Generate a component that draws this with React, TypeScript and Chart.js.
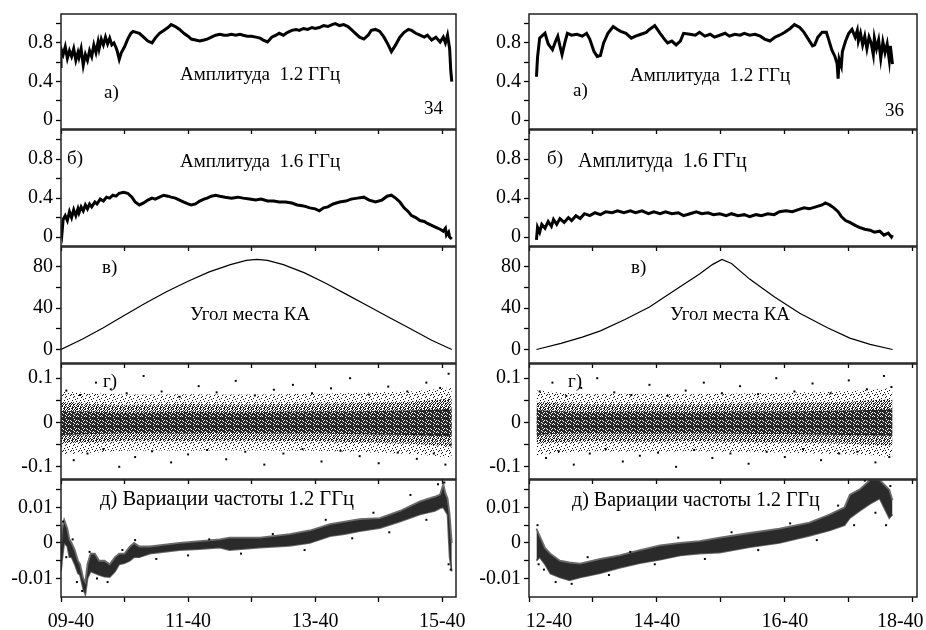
import React, { useEffect, useRef } from 'react';
import { Chart, registerables } from 'chart.js';
Chart.register(...registerables);

const FONT = "'Liberation Serif', 'Times New Roman', serif";

// ---------- x axes: minutes after the first hour tick ----------
const LEFT_X_MAX = 373;
const RIGHT_X_MAX = 364;
const X_TICKS = [0, 60, 120, 180, 240, 300, 360];
const LEFT_X_LABELS = ['    09-40', '', '11-40', '', '13-40', '', '15-40'];
const RIGHT_X_LABELS = ['        12-40', '', '14-40', '', '16-40', '', '18-40     '];

// ---------- y axes ----------
const AMP_TICKS = [0, 0.2, 0.4, 0.6, 0.8, 1.0];
const AMP_LABELS = ['0', '', '0.4', '', '0.8', ''];
const ELEV_TICKS = [0, 20, 40, 60, 80];
const ELEV_LABELS = ['0', '', '40', '', '80'];
const PH_TICKS = [-0.1, -0.05, 0, 0.05, 0.1];
const PH_LABELS = ['-0.1', '', '0', '', '0.1'];
const FR_TICKS = [-0.01, -0.005, 0, 0.005, 0.01, 0.015];
const FR_LABELS = ['-0.01', '', '0', '', '0.01', ''];

// ---------- left column (pass 34) ----------
const L1_T = [0,0,2,4,6,8,10,12,14,16, 17,19,21,23,25,27,29,31,33,35, 36,38,40,42,44,46,48,50,52,53,
  55,57,60,63,66,68,71,74,78,82, 86,89,93,97,101,104,108,112,116,120, 123,127,131,135,138,142,146,150,154,157,
  161,165,169,172,176,180,184,188,191,195, 199,203,206,210,214,218,222,225,229,233, 237,240,244,248,252,256,259,263,267,271,
  274,278,282,286,290,293,297,301,305,309, 312,316,320,324,328,331,335,339,343,346, 350,354,358,361,363,365,367,368,369];
const L1_V = [0.54,0.74,0.68,0.76,0.64,0.72,0.66,0.74,0.62,0.70, 0.65,0.74,0.57,0.68,0.62,0.72,0.66,0.78,0.70,0.81,
  0.74,0.84,0.78,0.86,0.79,0.85,0.78,0.80,0.75,0.72, 0.63,0.70,0.76,0.84,0.90,0.92,0.91,0.90,0.86,0.82,
  0.80,0.85,0.90,0.93,0.96,0.99,0.97,0.94,0.90,0.87, 0.84,0.83,0.82,0.83,0.84,0.86,0.88,0.89,0.88,0.88,
  0.89,0.88,0.89,0.88,0.87,0.87,0.86,0.85,0.83,0.81, 0.86,0.88,0.90,0.88,0.91,0.93,0.94,0.93,0.95,0.94,
  0.96,0.95,0.96,0.98,0.97,0.99,1.00,0.98,0.99,0.97, 0.94,0.90,0.86,0.84,0.88,0.93,0.94,0.92,0.86,0.78,
  0.71,0.78,0.86,0.91,0.94,0.93,0.90,0.88,0.86,0.88, 0.83,0.86,0.81,0.86,0.80,0.88,0.74,0.52,0.40];

const L2_T = [0,0,1,2,4,6,8,10,12,14, 16,17,19,21,23,25,27,29,32,34, 37,40,43,46,49,52,55,59,63,67,
  70,74,78,82,86,89,93,97,101,104, 108,112,116,120,123,127,131,135,138,142, 146,150,155,161,167,172,178,184,189,195,
  201,206,212,218,223,229,235,240,244,248, 252,257,263,269,274,280,286,291,297,303, 308,312,316,320,324,328,331,335,339,343,
  346,350,354,358,361,363,364,366,367,369];
const L2_V = [0.00,0.12,0.05,0.18,0.22,0.17,0.26,0.20,0.28,0.22, 0.29,0.25,0.31,0.27,0.33,0.29,0.34,0.31,0.36,0.34,
  0.39,0.37,0.41,0.40,0.43,0.42,0.45,0.46,0.45,0.41, 0.36,0.33,0.35,0.38,0.40,0.39,0.41,0.43,0.42,0.41,
  0.40,0.38,0.36,0.34,0.33,0.34,0.37,0.39,0.40,0.42, 0.43,0.42,0.41,0.40,0.41,0.40,0.39,0.38,0.39,0.37,
  0.37,0.36,0.36,0.35,0.33,0.32,0.30,0.29,0.27,0.30, 0.31,0.34,0.36,0.37,0.39,0.40,0.41,0.38,0.36,0.38,
  0.42,0.43,0.40,0.36,0.30,0.26,0.22,0.20,0.17,0.16, 0.14,0.12,0.10,0.08,0.06,0.09,0.02,0.05,0.00,-0.02];

const L3_T = [0,20,40,60,80,100,120,140,160,175,185,195,210,230,250,270,290,310,330,350,369];
const L3_V = [0,10,21,33,45,56,66,75,82,86,87,86,82,74,64,53,42,31,20,9,0];

const L4_T = [0,30,60,90,120,150,180,210,240,270,300,330,350,369];
const L4_CORE_HI = [0.026,0.024,0.022,0.023,0.024,0.023,0.023,0.024,0.025,0.025,0.026,0.027,0.029,0.031];
const L4_CORE_LO = [-0.028,-0.026,-0.024,-0.024,-0.025,-0.023,-0.024,-0.025,-0.024,-0.026,-0.027,-0.028,-0.030,-0.032];
const L4_MID_HI = [0.045,0.042,0.040,0.041,0.042,0.041,0.041,0.042,0.043,0.043,0.045,0.047,0.050,0.054];
const L4_MID_LO = [-0.047,-0.044,-0.041,-0.041,-0.042,-0.041,-0.041,-0.042,-0.042,-0.044,-0.046,-0.048,-0.051,-0.055];
const L4_OUT_HI = [0.070,0.066,0.063,0.063,0.064,0.063,0.063,0.064,0.065,0.066,0.068,0.070,0.074,0.080];
const L4_OUT_LO = [-0.072,-0.068,-0.064,-0.063,-0.064,-0.063,-0.063,-0.064,-0.064,-0.066,-0.068,-0.071,-0.075,-0.080];
const L4_DOT_T = [5,12,18,25,33,40,47,55,62,70, 78,86,95,104,112,120,130,138,147,156, 165,174,183,192,201,210,219,228,237,246,
  255,264,273,282,291,300,309,318,327,336, 345,352,358,363,366,368];
const L4_DOT_V = [0.072,-0.085,0.062,-0.07,0.09,-0.06,0.075,-0.1,0.066,-0.078, 0.105,-0.065,0.07,-0.09,0.058,-0.072,0.082,-0.062,0.068,-0.083,
  0.094,-0.066,0.061,-0.095,0.074,-0.07,0.085,-0.06,0.066,-0.088, 0.077,-0.064,0.1,-0.076,0.063,-0.092,0.081,-0.068,0.07,-0.082,
  0.09,-0.07,0.078,-0.095,0.11,-0.05];

const L5_T = [0,1,3,6,8,10,13,16,18,21, 23,25,28,32,36,41,46,51,55,60, 65,69,74,84,98,112,131,150,159,188,
  216,235,254,268,282,301,320,339,353,358, 361,363,365,367,369];
const L5_HI = [-0.001,0.004,0.0065,0.004,0.001,0.000,-0.002,-0.005,-0.006,-0.010, -0.011,-0.006,-0.003,-0.003,-0.005,-0.005,-0.006,-0.004,-0.003,-0.003,
  -0.001,0.000,-0.001,-0.001,-0.0005,0.000,0.0005,0.001,0.0015,0.0015, 0.0025,0.0035,0.0053,0.006,0.0067,0.007,0.009,0.0117,0.013,0.0136,
  0.0165,0.014,0.0125,0.008,0.000];
const L5_LO = [-0.008,-0.005,0.000,-0.001,-0.004,-0.004,-0.006,-0.0085,-0.009,-0.013, -0.0145,-0.010,-0.008,-0.0085,-0.009,-0.0095,-0.0096,-0.008,-0.006,-0.0057,
  -0.005,-0.004,-0.004,-0.003,-0.0025,-0.002,-0.0017,-0.0013,-0.002,-0.0013, -0.0008,0.000,0.0019,0.0025,0.0033,0.0042,0.006,0.008,0.009,0.0098,
  0.010,0.009,0.008,-0.004,-0.008];
const L5_DOT_T = [2,5,11,15,20,27,34,44,58,70,90,120,140,170,200,230,250,275,295,310,330,345,356,362,366,368];
const L5_DOT_V = [0.006,-0.004,0.001,-0.011,-0.0135,-0.0025,-0.010,-0.011,-0.002,0.0008,-0.0045,-0.0035,0.001,-0.003,0.0025,-0.002,0.0065,0.0013,0.0085,0.003,0.0135,0.0065,0.0165,0.017,-0.006,-0.0075];

// ---------- right column (pass 36) ----------
const R1_T = [7,8,10,13,15,18,20,22,25,27, 29,31,34,36,40,45,50,54,57,61, 64,67,70,74,79,83,86,91,96,100,
  105,110,113,118,123,127,130,134,138,142, 145,151,156,160,165,170,174,179,184,188, 193,198,202,207,212,217,221,226,231,235,
  240,245,249,254,258,262,266,268,271,275, 279,281,284,287,289,290,291,293,294,297, 300,303,306,308,309,311,313,315,317,319,
  321,323,324,326,328,330,332,334,336,338, 339,341];
const R1_V = [0.45,0.65,0.85,0.88,0.90,0.79,0.76,0.73,0.82,0.87, 0.77,0.68,0.82,0.90,0.88,0.89,0.87,0.90,0.84,0.71,
  0.66,0.67,0.80,0.90,0.97,0.94,0.92,0.90,0.85,0.87, 0.89,0.91,0.94,0.98,0.90,0.84,0.80,0.82,0.78,0.82,
  0.90,0.89,0.88,0.91,0.87,0.89,0.86,0.88,0.90,0.87, 0.89,0.88,0.90,0.88,0.89,0.87,0.84,0.82,0.86,0.88,
  0.91,0.95,0.99,0.96,0.91,0.84,0.77,0.78,0.86,0.91, 0.91,0.84,0.73,0.66,0.59,0.43,0.63,0.56,0.71,0.82,
  0.90,0.94,0.86,0.93,0.82,0.90,0.78,0.87,0.74,0.86, 0.80,0.68,0.85,0.74,0.83,0.64,0.81,0.70,0.79,0.62, 0.77,0.58];

const R2_T = [7,8,10,12,15,18,21,23,26,29, 33,37,40,44,48,52,57,62,67,72, 78,83,89,95,100,106,112,117,123,128,
  134,140,145,151,157,162,168,173,179,185, 190,196,202,207,213,218,224,230,235,241, 247,252,258,263,269,275,278,282,286,290,
  293,297,301,306,310,315,320,324,329,333, 337,340,341];
const R2_V = [-0.03,0.10,0.05,0.13,0.09,0.16,0.11,0.18,0.13,0.19, 0.15,0.20,0.17,0.22,0.19,0.24,0.22,0.25,0.23,0.26,
  0.25,0.27,0.25,0.27,0.25,0.27,0.24,0.26,0.24,0.26, 0.24,0.25,0.22,0.24,0.26,0.24,0.25,0.23,0.24,0.22,
  0.24,0.22,0.23,0.21,0.23,0.22,0.24,0.23,0.26,0.27, 0.26,0.28,0.30,0.29,0.31,0.33,0.35,0.33,0.30,0.26,
  0.21,0.17,0.15,0.12,0.10,0.08,0.07,0.05,0.06,0.02, 0.04,0.00,0.02];

const R3_T = [7,30,50,67,90,113,135,160,172,181,190,207,230,254,280,301,320,341];
const R3_V = [0,6,12,18,29,41,56,73,82,87,83,68,51,35,21,11,5,0];

const R4_T = [7,30,60,90,120,150,180,210,240,270,300,320,341];
const R4_CORE_HI = [0.028,0.025,0.023,0.024,0.024,0.023,0.024,0.025,0.025,0.026,0.027,0.028,0.030];
const R4_CORE_LO = [-0.028,-0.025,-0.024,-0.025,-0.025,-0.024,-0.025,-0.026,-0.026,-0.027,-0.028,-0.029,-0.030];
const R4_MID_HI = [0.047,0.043,0.041,0.042,0.042,0.041,0.042,0.043,0.044,0.045,0.047,0.050,0.052];
const R4_MID_LO = [-0.048,-0.044,-0.042,-0.043,-0.043,-0.042,-0.043,-0.044,-0.045,-0.046,-0.048,-0.050,-0.052];
const R4_OUT_HI = [0.072,0.067,0.064,0.065,0.065,0.064,0.065,0.066,0.067,0.069,0.071,0.074,0.078];
const R4_OUT_LO = [-0.074,-0.068,-0.065,-0.066,-0.066,-0.065,-0.066,-0.067,-0.068,-0.070,-0.072,-0.074,-0.078];
const R4_DOT_T = [10,16,22,28,35,42,49,57,64,72, 80,88,96,104,113,121,130,138,147,155, 164,172,181,189,198,206,215,223,232,240,
  249,257,266,274,283,291,300,308,317,325, 333,338,340];
const R4_DOT_V = [0.07,-0.08,0.09,-0.065,0.06,-0.095,0.078,-0.07,0.1,-0.06, 0.068,-0.088,0.062,-0.075,0.085,-0.068,0.06,-0.1,0.072,-0.062,
  0.09,-0.08,0.066,-0.07,0.082,-0.093,0.064,-0.066,0.1,-0.078, 0.07,-0.06,0.088,-0.085,0.066,-0.07,0.095,-0.066,0.075,-0.09,
  0.105,-0.078,0.08];

const R5_T = [7,10,15,20,29,38,48,67,85,104,123,142,160,179,207,235,263,282,296,301,310,320,329,338,341];
const R5_HI = [0.004,0.002,-0.0014,-0.003,-0.005,-0.0055,-0.0058,-0.0045,-0.0035,-0.002,-0.0007,0.0,0.0005,0.0015,0.0028,0.004,0.0057,0.008,0.010,0.0136,0.015,0.0177,0.0177,0.015,0.012];
const R5_LO = [-0.005,-0.004,-0.006,-0.0086,-0.0097,-0.0105,-0.0097,-0.0085,-0.007,-0.0057,-0.0047,-0.0035,-0.003,-0.0027,-0.0012,0.0,0.002,0.0035,0.005,0.007,0.009,0.011,0.0125,0.007,0.008];
const R5_DOT_T = [8,9,14,25,40,55,75,95,118,140,165,190,215,245,270,290,305,315,325,335,339];
const R5_DOT_V = [0.005,-0.006,-0.0075,-0.011,-0.0115,-0.004,-0.009,-0.0025,-0.006,0.0015,-0.0045,0.003,-0.002,0.0055,0.0008,0.0105,0.005,0.0175,0.0085,0.005,0.016];

// ---------- text notes ----------
const NOTES = [
  { text: 'а)', x: 104, y: 92 },
  { text: 'Амплитуда  1.2 ГГц', x: 180, y: 74 },
  { text: '34', x: 424, y: 108 },
  { text: 'б)', x: 67, y: 158 },
  { text: 'Амплитуда  1.6 ГГц', x: 180, y: 161 },
  { text: 'в)', x: 102, y: 267 },
  { text: 'Угол места КА', x: 190, y: 314 },
  { text: 'г)', x: 103, y: 381 },
  { text: 'д) Вариации частоты 1.2 ГГц', x: 100, y: 499, size: 20.5 },
  { text: 'а)', x: 573, y: 90 },
  { text: 'Амплитуда  1.2 ГГц', x: 630, y: 75 },
  { text: '36', x: 885, y: 110 },
  { text: 'б)', x: 547, y: 158 },
  { text: 'Амплитуда  1.6 ГГц', x: 578, y: 161, size: 20 },
  { text: 'в)', x: 631, y: 267 },
  { text: 'Угол места КА', x: 670, y: 314 },
  { text: 'г)', x: 568, y: 381 },
  { text: 'д) Вариации частоты 1.2 ГГц', x: 572, y: 500, size: 20 },
];

// ---------- speckle textures for the scatter clouds (style only) ----------
const CORE_TILE = ['##.###.#', '.###.##.', '#.##.###', '###.#.##', '.##.###.', '##.###.#', '#.###.##', '.##.#.##'];
const MID_TILE = ['#..#.#..', '.#...#.#', '#..#...#', '..#.#.#.', '.#..#..#', '#.#...#.', '..#.#..#', '#...#.#.'];
const OUT_TILE = ['#.......', '....#...', '..#.....', '.......#', '...#....', '#.....#.', '.....#..', '.#......'];

function makePattern(tile: string[], color: string): any {
  const c = document.createElement('canvas');
  c.width = tile[0].length;
  c.height = tile.length;
  const g = c.getContext('2d') as CanvasRenderingContext2D;
  g.fillStyle = color;
  tile.forEach((row, y) => {
    for (let x = 0; x < row.length; x++) if (row[x] === '#') g.fillRect(x, y, 1, 1);
  });
  return g.createPattern(c, 'repeat');
}

// ---------- layout ----------
const Y_AXIS_W = 60;
const TOP_PAD = 14;
const RIGHT_PAD = 50;
const ROW_TOP = [13, 129, 246, 363, 479];
const ROW_H = [116, 117, 117, 116, 118];
const COL_LEFT = [61, 529];
const COL_W = [395, 388];

const xy = (t: number[], v: number[]) => t.map((x, i) => ({ x, y: v[i] }));
const trace = (t: number[], v: number[], w: number) => ({
  data: xy(t, v), borderColor: '#000', borderWidth: w, pointRadius: 0, tension: 0, fill: false, order: 1,
});
const band = (t: number[], hi: number[], lo: number[], fillStyle: any, order: number, edge = 0, edgeColor = '#000') => [
  { data: xy(t, hi), borderWidth: edge, borderColor: edgeColor, pointRadius: 0, fill: '+1', backgroundColor: fillStyle, order },
  { data: xy(t, lo), borderWidth: edge, borderColor: edgeColor, pointRadius: 0, fill: false, order },
];
const dots = (t: number[], v: number[]) => ({
  data: xy(t, v), showLine: false, pointRadius: 1.4, pointStyle: 'rect', pointBorderWidth: 0,
  pointBackgroundColor: '#000', borderWidth: 0, order: 0,
});

type Axis = { min: number; max: number; ticks: number[]; labels: string[] };
const AMP_AXIS: Axis = { min: -0.092, max: 1.1, ticks: AMP_TICKS, labels: AMP_LABELS };
const ELEV_AXIS: Axis = { min: -13, max: 99, ticks: ELEV_TICKS, labels: ELEV_LABELS };
const PH_AXIS: Axis = { min: -0.1275, max: 0.132, ticks: PH_TICKS, labels: PH_LABELS };
const FR_AXIS: Axis = { min: -0.0152, max: 0.0177, ticks: FR_TICKS, labels: FR_LABELS };

type PanelCfg = { col: number; row: number; y: Axis; build: () => any[] };

const cloud = (t: number[], oh: number[], ol: number[], mh: number[], ml: number[], ch: number[], cl: number[], dt: number[], dv: number[]) => [
  ...band(t, oh, ol, makePattern(OUT_TILE, '#111'), 4),
  ...band(t, mh, ml, makePattern(MID_TILE, '#222'), 3),
  ...band(t, ch, cl, makePattern(CORE_TILE, '#2a2a2a'), 2),
  dots(dt, dv),
];

const AMP_W = 3;
const PANELS: PanelCfg[] = [
  { col: 0, row: 0, y: AMP_AXIS, build: () => [trace(L1_T, L1_V, AMP_W)] },
  { col: 0, row: 1, y: AMP_AXIS, build: () => [trace(L2_T, L2_V, AMP_W)] },
  { col: 0, row: 2, y: ELEV_AXIS, build: () => [trace(L3_T, L3_V, 1.2)] },
  { col: 0, row: 3, y: PH_AXIS, build: () => cloud(L4_T, L4_OUT_HI, L4_OUT_LO, L4_MID_HI, L4_MID_LO, L4_CORE_HI, L4_CORE_LO, L4_DOT_T, L4_DOT_V) },
  { col: 0, row: 4, y: FR_AXIS, build: () => [...band(L5_T, L5_HI, L5_LO, '#2a2a2a', 2, 1.8, '#6a6a6a'), dots(L5_DOT_T, L5_DOT_V)] },
  { col: 1, row: 0, y: AMP_AXIS, build: () => [trace(R1_T, R1_V, AMP_W)] },
  { col: 1, row: 1, y: AMP_AXIS, build: () => [trace(R2_T, R2_V, AMP_W)] },
  { col: 1, row: 2, y: ELEV_AXIS, build: () => [trace(R3_T, R3_V, 1.2)] },
  { col: 1, row: 3, y: PH_AXIS, build: () => cloud(R4_T, R4_OUT_HI, R4_OUT_LO, R4_MID_HI, R4_MID_LO, R4_CORE_HI, R4_CORE_LO, R4_DOT_T, R4_DOT_V) },
  { col: 1, row: 4, y: FR_AXIS, build: () => [...band(R5_T, R5_HI, R5_LO, '#2a2a2a', 2, 1.8, '#6a6a6a'), dots(R5_DOT_T, R5_DOT_V)] },
];

const boxPlugin = {
  id: 'panelBox',
  afterDatasetsDraw(chart: any) {
    const { ctx, chartArea: a } = chart;
    ctx.save();
    ctx.strokeStyle = '#222';
    ctx.lineWidth = 1.5;
    ctx.strokeRect(a.left, a.top, a.right - a.left, a.bottom - a.top);
    ctx.restore();
  },
};

function Panel({ cfg }: { cfg: PanelCfg }) {
  const ref = useRef<HTMLCanvasElement | null>(null);
  const bottom = cfg.row === 4;
  const xAxisH = bottom ? 40 : 16;
  const w = Y_AXIS_W + COL_W[cfg.col] + RIGHT_PAD;
  const h = TOP_PAD + ROW_H[cfg.row] + xAxisH;
  useEffect(() => {
    const xLabels = cfg.col === 0 ? LEFT_X_LABELS : RIGHT_X_LABELS;
    const chart = new Chart(ref.current as HTMLCanvasElement, {
      type: 'line',
      data: { datasets: cfg.build() },
      options: {
        animation: false,
        responsive: false,
        devicePixelRatio: 1,
        events: [],
        layout: { padding: { top: TOP_PAD, right: RIGHT_PAD, bottom: 0, left: 0 } },
        plugins: { legend: { display: false }, tooltip: { enabled: false } },
        scales: {
          x: {
            type: 'linear',
            min: 0,
            max: cfg.col === 0 ? LEFT_X_MAX : RIGHT_X_MAX,
            afterBuildTicks: (s: any) => { s.ticks = X_TICKS.map((v) => ({ value: v })); },
            afterFit: (s: any) => { s.height = xAxisH; },
            border: { display: false },
            grid: { drawOnChartArea: false, drawTicks: true, tickLength: 5, tickColor: '#000', tickWidth: 1.3, color: '#000' },
            ticks: {
              display: bottom, autoSkip: false, maxRotation: 0, minRotation: 0, padding: 8, color: '#000',
              font: { family: FONT, size: 20 },
              callback: (_v: any, i: number) => xLabels[i],
            },
          },
          y: {
            type: 'linear',
            min: cfg.y.min,
            max: cfg.y.max,
            afterBuildTicks: (s: any) => { s.ticks = cfg.y.ticks.map((v) => ({ value: v })); },
            afterFit: (s: any) => { s.width = Y_AXIS_W; },
            border: { display: false },
            grid: { drawOnChartArea: false, drawTicks: true, tickLength: 5, tickColor: '#000', tickWidth: 1.3, color: '#000' },
            ticks: {
              autoSkip: false, padding: 3, color: '#000',
              font: { family: FONT, size: 20 },
              callback: (_v: any, i: number) => cfg.y.labels[i],
            },
          },
        },
      } as any,
      plugins: [boxPlugin],
    } as any);
    return () => chart.destroy();
  }, []);
  return (
    <canvas
      ref={ref}
      width={w}
      height={h}
      style={{ position: 'absolute', left: COL_LEFT[cfg.col] - Y_AXIS_W, top: ROW_TOP[cfg.row] - TOP_PAD, width: w, height: h }}
    />
  );
}

export default function App() {
  return (
    <div style={{ position: 'absolute', left: 0, top: 0, width: 926, height: 630, overflow: 'hidden', background: '#fff' }}>
      {PANELS.map((p, i) => <Panel key={i} cfg={p} />)}
      {NOTES.map((n: any, i) => (
        <div
          key={'n' + i}
          style={{ position: 'absolute', left: n.x, top: n.y - 10, fontFamily: FONT, fontSize: n.size || 19, lineHeight: '19px', whiteSpace: 'pre', color: '#000' }}
        >
          {n.text}
        </div>
      ))}
    </div>
  );
}
